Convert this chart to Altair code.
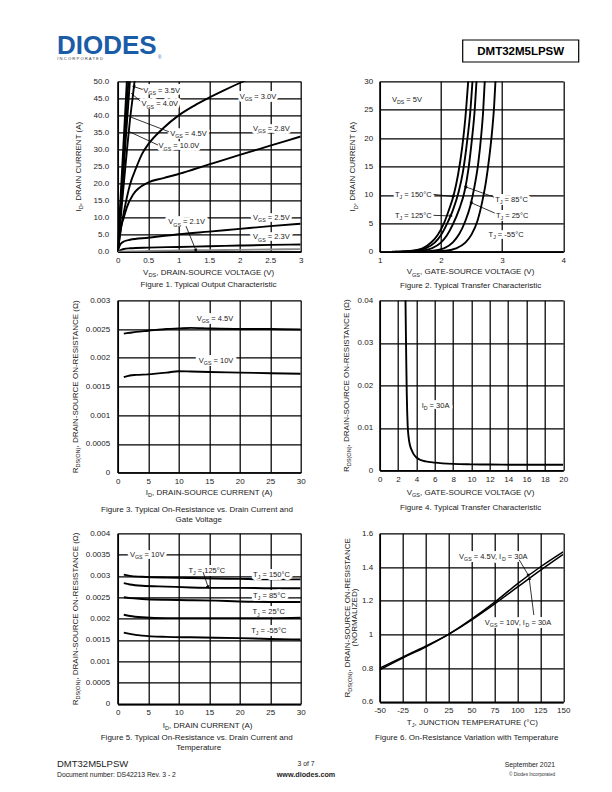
import math
import altair as alt
import pandas as pd

FONT = "Liberation Sans"
INK = "#000000"
LAB = "#1a1a1a"

# ====================== DATA ======================
# Figure 1: Typical Output Characteristic  (VDS [V] -> ID [A]) per VGS
f1_vds = {
    "10.0V": [0, 0.15, 0.156],
    "4.5V": [0, 0.175, 0.182],
    "4.0V": [0, 0.2, 0.208],
    "3.5V": [0, 0.05, 0.1, 0.15, 0.2, 0.24, 0.27, 0.28],
    "3.0V": [0, 0.05, 0.1, 0.2, 0.3, 0.4, 0.5, 0.75, 1.0, 1.25, 1.5, 1.75, 2.0, 2.1],
    "2.8V": [0, 0.03, 0.06, 0.1, 0.15, 0.25, 0.5, 0.75, 1.0, 1.25, 1.5, 2.0, 2.5, 3.0],
    "2.5V": [0, 0.02, 0.05, 0.1, 0.2, 0.5, 1.0, 1.5, 2.0, 2.5, 3.0],
    "2.3V": [0, 0.05, 0.1, 0.2, 0.5, 1.0, 1.5, 2.0, 2.5, 3.0],
    "2.1V": [0, 0.5, 1.0, 1.5, 2.0, 2.5, 3.0],
}
f1_id = {
    "10.0V": [0, 50, 52],
    "4.5V": [0, 50, 52],
    "4.0V": [0, 50, 52],
    "3.5V": [0, 10, 20, 29.5, 38.5, 44.5, 49, 50.5],
    "3.0V": [0, 6.5, 11.5, 19.6, 24.5, 28.7, 31.5, 36.3, 40, 42.8, 45.2, 47.4, 49.5, 50.3],
    "2.8V": [0, 4, 7.5, 10, 13, 16.7, 20.3, 21.6, 22.8, 24.2, 25.6, 28.4, 31.1, 33.8],
    "2.5V": [0, 1.2, 2.3, 3.0, 3.5, 4.1, 5.1, 5.9, 6.7, 7.5, 8.2],
    "2.3V": [0, 0.5, 0.8, 1.0, 1.2, 1.4, 1.6, 1.8, 2.0, 2.1],
    "2.1V": [0, 0.2, 0.35, 0.45, 0.55, 0.65, 0.75],
}
f1_colors = {"2.1V": "#8a8a8a"}
f1_xticks = [0, 0.5, 1, 1.5, 2, 2.5, 3]
f1_yticks = [0, 5, 10, 15, 20, 25, 30, 35, 40, 45, 50]
f1_labels = [
    ("3.5V", 0.42, 47.5), ("4.0V", 0.39, 43.4), ("4.5V", 0.86, 34.8), ("10.0V", 0.67, 31.1),
    ("3.0V", 2.0, 45.6), ("2.8V", 2.22, 36.1), ("2.1V", 0.83, 8.8), ("2.5V", 2.22, 10.1),
    ("2.3V", 2.22, 4.4),
]
f1_leaders = [
    (0.41, 47.6, 0.27, 48.4, True), (0.37, 44.2, 0.22, 46.5, False),
    (0.84, 35.2, 0.2, 39.6, False), (0.66, 31.3, 0.18, 35.3, False),
    (1.12, 7.5, 1.28, 0.5, True),
]

# Figure 2: Typical Transfer Characteristic (VGS [V] -> ID [A]) per TJ
f2_vgs = {
    "150": [1.2, 1.5, 1.7, 1.85, 1.95, 2.05, 2.13, 2.21, 2.28, 2.35, 2.40, 2.45],
    "125": [1.25, 1.55, 1.75, 1.9, 2.0, 2.1, 2.2, 2.29, 2.36, 2.43, 2.48, 2.52],
    "85": [1.35, 1.65, 1.85, 2.0, 2.1, 2.2, 2.3, 2.385, 2.45, 2.51, 2.55, 2.585],
    "25": [1.5, 1.85, 2.05, 2.2, 2.3, 2.4, 2.48, 2.55, 2.61, 2.66, 2.69, 2.72],
    "-55": [1.7, 2.05, 2.25, 2.4, 2.5, 2.6, 2.68, 2.74, 2.79, 2.84, 2.87, 2.895],
}
f2_id = {
    "150": [0, 0.15, 0.6, 1.7, 3.0, 5.0, 7.3, 10, 13.5, 18.5, 23.5, 30.5],
    "125": [0, 0.15, 0.6, 1.6, 2.9, 4.9, 7.4, 10.5, 14, 19.5, 24.5, 30.5],
    "85": [0, 0.15, 0.6, 1.6, 2.9, 4.9, 7.5, 10.5, 14.5, 20, 24.5, 30.5],
    "25": [0, 0.15, 0.6, 1.7, 3.1, 5.4, 8.0, 11.5, 15.5, 20.5, 24.5, 30.5],
    "-55": [0, 0.15, 0.6, 1.6, 3.0, 5.5, 9.0, 12.5, 16.5, 21.5, 25.5, 30.5],
}
f2_xticks = [1, 2, 3, 4]
f2_yticks = [0, 5, 10, 15, 20, 25, 30]
f2_labels = [
    ([("V", 0), ("DS", 1), (" = 5V", 0)], 1.2, 26.9),
    ([("T", 0), ("J", 1), (" = 150°C", 0)], 1.25, 10.1),
    ([("T", 0), ("J", 1), (" = 125°C", 0)], 1.25, 6.4),
    ([("T", 0), ("J", 1), (" = 85°C", 0)], 2.89, 9.2),
    ([("T", 0), ("J", 1), (" = 25°C", 0)], 2.9, 6.4),
    ([("T", 0), ("J", 1), (" = -55°C", 0)], 2.78, 3.0),
]
f2_leaders = [
    (1.88, 10.1, 2.2, 9.7, True), (1.88, 6.4, 2.16, 6.3, True),
    (2.87, 9.6, 2.41, 11.4, True), (2.88, 6.8, 2.5, 8.6, True),
]

# Figure 3: On-Resistance vs Drain Current and Gate Voltage
f3_id = [1, 2, 3, 5, 8, 10, 12, 15, 20, 25, 30]
f3_r_45 = [0.00242, 0.002435, 0.00245, 0.00247, 0.0025, 0.00251, 0.00252, 0.00251, 0.0025, 0.0025, 0.00249]
f3_r_10 = [0.00166, 0.00169, 0.0017, 0.00171, 0.00174, 0.001765, 0.00176, 0.00175, 0.00174, 0.00173, 0.00172]
f3_xticks = [0, 5, 10, 15, 20, 25, 30]
f3_yticks = [0, 0.0005, 0.001, 0.0015, 0.002, 0.0025, 0.003]
f3_labels = [
    ([("V", 0), ("GS", 1), (" = 4.5V", 0)], 12.95, 0.00268),
    ([("V", 0), ("GS", 1), (" = 10V", 0)], 13.3, 0.00195),
]

# Figure 4: On-Resistance vs Gate-Source Voltage (ID = 30A)
f4_vgs = [2.8, 2.85, 2.9, 2.95, 3.0, 3.05, 3.15, 3.3, 3.5, 3.7, 4.0, 4.5, 5, 6, 8, 10, 12, 16, 20]
f4_r = [0.042, 0.033, 0.025, 0.018, 0.0135, 0.0105, 0.0078, 0.0059, 0.0047, 0.0038, 0.003,
        0.0024, 0.0021, 0.0018, 0.0015, 0.0014, 0.00135, 0.0013, 0.0013]
f4_xticks = [0, 2, 4, 6, 8, 10, 12, 14, 16, 18, 20]
f4_yticks = [0, 0.01, 0.02, 0.03, 0.04]
f4_labels = [([("I", 0), ("D", 1), (" = 30A", 0)], 4.57, 0.0154)]

# Figure 5: On-Resistance vs Drain Current and Temperature (VGS = 10V)
f5_id = [1, 2, 4, 8, 12, 16, 20, 25, 30]
f5_r = {
    "150": [0.00303, 0.0030, 0.00298, 0.00296, 0.00295, 0.00294, 0.00293, 0.00292, 0.00292],
    "125": [0.00283, 0.0028, 0.00277, 0.00275, 0.00273, 0.00272, 0.00272, 0.00271, 0.00271],
    "85": [0.0025, 0.00248, 0.00246, 0.00244, 0.00243, 0.00242, 0.0024, 0.00239, 0.00239],
    "25": [0.00209, 0.00206, 0.00203, 0.00201, 0.00201, 0.00201, 0.00201, 0.00201, 0.00202],
    "-55": [0.00167, 0.00164, 0.0016, 0.00157, 0.00156, 0.00155, 0.00154, 0.00152, 0.00151],
}
f5_xticks = [0, 5, 10, 15, 20, 25, 30]
f5_yticks = [0, 0.0005, 0.001, 0.0015, 0.002, 0.0025, 0.003, 0.0035, 0.004]
f5_labels = [
    ([("V", 0), ("GS", 1), (" = 10V", 0)], 2.0, 0.00351),
    ([("T", 0), ("J", 1), (" = 125°C", 0)], 11.6, 0.00314),
    ([("T", 0), ("J", 1), (" = 150°C", 0)], 22.2, 0.00304),
    ([("T", 0), ("J", 1), (" = 85°C", 0)], 22.2, 0.00255),
    ([("T", 0), ("J", 1), (" = 25°C", 0)], 22.1, 0.00216),
    ([("T", 0), ("J", 1), (" = -55°C", 0)], 21.9, 0.00173),
]
f5_leaders = [(14.0, 0.00309, 14.8, 0.00275, True)]

# Figure 6: On-Resistance Variation with Temperature (normalized)
f6_tj = [-50, -25, 0, 25, 50, 75, 100, 125, 150]
f6_r_45 = [0.80, 0.865, 0.93, 1.0, 1.09, 1.19, 1.30, 1.40, 1.49]
f6_r_10 = [0.79, 0.86, 0.925, 1.0, 1.085, 1.18, 1.28, 1.38, 1.475]
f6_xticks = [-50, -25, 0, 25, 50, 75, 100, 125, 150]
f6_yticks = [0.6, 0.8, 1.0, 1.2, 1.4, 1.6]
f6_labels = [
    ([("V", 0), ("GS", 1), (" = 4.5V, I", 0), ("D", 1), (" = 30A", 0)], 36.5, 1.462),
    ([("V", 0), ("GS", 1), (" = 10V, I", 0), ("D", 1), (" = 30A", 0)], 64.6, 1.072),
]
f6_leaders = [(102, 1.443, 112, 1.352, True), (118, 1.115, 113, 1.33, True)]

# ====================== HELPERS ======================
DUMMY = pd.DataFrame({"z": [0]})
CW = {' ': .278, '(': .333, ')': .333, ',': .278, '-': .333, '.': .278, ':': .278, '=': .584,
      '°': .4, 'Ω': .768, '©': .737}
for ch in "0123456789":
    CW[ch] = .556
CW.update({'A': .667, 'B': .667, 'C': .722, 'D': .722, 'E': .667, 'F': .611, 'G': .778, 'H': .722,
           'I': .278, 'J': .5, 'K': .667, 'L': .556, 'M': .833, 'N': .722, 'O': .778, 'P': .667,
           'Q': .778, 'R': .722, 'S': .667, 'T': .611, 'U': .722, 'V': .667, 'W': .944, 'X': .667,
           'Y': .667, 'Z': .611})
CW.update({'a': .556, 'b': .556, 'c': .5, 'd': .556, 'e': .556, 'f': .278, 'g': .556, 'h': .556,
           'i': .222, 'j': .222, 'k': .5, 'l': .222, 'm': .833, 'n': .556, 'o': .556, 'p': .556,
           'q': .556, 'r': .333, 's': .5, 't': .278, 'u': .556, 'v': .5, 'w': .722, 'x': .5,
           'y': .5, 'z': .5})
SUB = 0.7
SUBDY = 0.28


def tw(s, fs):
    return fs * sum(CW.get(c, 0.6) for c in s)


def rich(parts, fs):
    out, cur = [], 0.0
    for t, sub in parts:
        f = fs * SUB if sub else fs
        lead = len(t) - len(t.lstrip(' '))
        cur += lead * CW[' '] * f
        body = t.lstrip(' ')
        out.append((body.rstrip(' '), f, cur, SUBDY * fs if sub else 0.0))
        cur += tw(body, f)
    return out, cur


def px_text(parts, x, y, fs=8, align="center", angle=0, color=LAB, weight="normal"):
    """Text placed in pixel units relative to its panel (titles, captions, header, footer)."""
    if isinstance(parts, str):
        parts = [(parts, 0)]
    xx, yy = (x + 0.36 * fs, y) if angle else (x, y + 0.36 * fs)
    layers = []
    if len(parts) == 1:
        kw = dict(text=parts[0][0], align=align, baseline="alphabetic", fontSize=fs, font=FONT,
                  color=color, fontWeight=weight)
        if angle:
            kw["angle"] = angle
        return [alt.Chart(DUMMY).mark_text(**kw).encode(x=alt.value(xx), y=alt.value(yy))]
    pieces, total = rich(parts, fs)
    start = {"left": 0, "center": -total / 2, "right": -total}[align]
    for t, f, off, d in pieces:
        kw = dict(text=t, align="left", baseline="alphabetic", dx=start + off, dy=d, fontSize=f,
                  font=FONT, color=color, fontWeight=weight)
        if angle:
            kw["angle"] = angle
        layers.append(alt.Chart(DUMMY).mark_text(**kw).encode(x=alt.value(xx), y=alt.value(yy)))
    return layers


def data_label(parts, x, y, fs=7.5):
    """Annotation anchored in data coordinates (left edge, vertical centre) with a white halo."""
    pieces, total = rich(parts, fs)
    full = "".join(p[0] for p in parts)
    fsh = total / tw(full, 1.0)
    layers = [alt.Chart(DUMMY).mark_text(
        text=full, align="left", baseline="alphabetic", dy=0.36 * fsh, fontSize=fsh, font=FONT,
        fill="white", stroke="white", strokeWidth=6, strokeJoin="round"
    ).encode(x=alt.XDatum(x), y=alt.YDatum(y))]
    for t, f, off, d in pieces:
        layers.append(alt.Chart(DUMMY).mark_text(
            text=t, align="left", baseline="alphabetic", dx=off, dy=0.36 * fs + d, fontSize=f,
            font=FONT, color=LAB
        ).encode(x=alt.XDatum(x), y=alt.YDatum(y)))
    return layers


def axis(values, fmt, pad):
    return alt.Axis(values=values, tickCount=100, format=fmt, title=None, grid=True, gridColor=INK,
                    gridWidth=1.25, domainColor=INK, domainWidth=1.7, ticks=False, tickSize=0,
                    labelFont=FONT, labelFontSize=8, labelColor=LAB, labelPadding=pad,
                    labelFlush=False, labelOverlap=False, labelBound=False,
                    labelExpr="replace(datum.label, '\u2212', '-')")


def panel(series, xdom, ydom, xt, yt, xfmt, yfmt, w, h, labels=(), leaders=(), extras=(),
          ypad=8, width=1.9):
    sx = alt.Scale(domain=xdom, nice=False, zero=False)
    sy = alt.Scale(domain=ydom, nice=False, zero=False)
    ax, ay = axis(xt, xfmt, 5), axis(yt, yfmt, ypad)
    rows = []
    for name, (xs, ys, col) in series.items():
        for i, (a, b) in enumerate(zip(xs, ys)):
            rows.append(dict(s=name, x=a, y=b, o=i, c=col))
    df = pd.DataFrame(rows)
    layers = [alt.Chart(df).mark_line(clip=True, strokeWidth=width, interpolate="monotone").encode(
        x=alt.X("x:Q", scale=sx, axis=ax), y=alt.Y("y:Q", scale=sy, axis=ay),
        detail="s:N", order="o:Q", color=alt.Color("c:N", scale=None))]
    for parts, x, y in labels:
        layers += data_label(parts, x, y)
    if leaders:
        kx = w / (xdom[1] - xdom[0])
        ky = h / (ydom[1] - ydom[0])
        ldf = pd.DataFrame([dict(x=a, y=b, x2=c, y2=d) for a, b, c, d, _ in leaders])
        layers.append(alt.Chart(ldf).mark_rule(color=INK, strokeWidth=0.8).encode(
            x=alt.X("x:Q", scale=sx, axis=ax), y=alt.Y("y:Q", scale=sy, axis=ay),
            x2="x2:Q", y2="y2:Q"))
        heads = []
        for a, b, c, d, arrow in leaders:
            if arrow:
                dxp, dyp = (c - a) * kx, -(d - b) * ky
                heads.append(dict(x=c, y=d, ang=math.degrees(math.atan2(dxp, -dyp)) % 360))
        if heads:
            layers.append(alt.Chart(pd.DataFrame(heads)).mark_point(
                shape="triangle", filled=True, size=14, color=INK, opacity=1).encode(
                x=alt.X("x:Q", scale=sx, axis=ax), y=alt.Y("y:Q", scale=sy, axis=ay),
                angle=alt.Angle("ang:Q", scale=None)))
    layers += list(extras)
    return alt.layer(*layers).properties(width=w, height=h)


def spacer(w, h):
    return alt.Chart(DUMMY).mark_text(text="").encode(
        x=alt.value(0), y=alt.value(0)).properties(width=w, height=h)


# ====================== LAYOUT ======================
LW, RW = 183, 183.5
H1L, H1R = 170.4, 170.4
H2L, H2R = 172.2, 170.0
H3L, H3R = 170.5, 168.5
GAPX, GAPY1, GAPY2 = 78.3, 48.0, 59.4
G = ".6~g"

VGS = lambda rest: [("V", 0), ("GS", 1), (rest, 0)]
RDS_TITLE = [("R", 0), ("DS(ON)", 1), (", DRAIN-SOURCE ON-RESISTANCE (Ω)", 0)]

# ---- Panel 1 ----
s1 = {k: (f1_vds[k], f1_id[k], f1_colors.get(k, INK)) for k in f1_vds}
e1 = []
e1 += px_text([("I", 0), ("D", 1), (", DRAIN CURRENT (A)", 0)], -39.4, H1L / 2, angle=270)
e1 += px_text([("V", 0), ("DS", 1), (", DRAIN-SOURCE VOLTAGE (V)", 0)], 91.5, H1L + 20.5)
e1 += px_text("Figure 1. Typical Output Characteristic", 90.8, H1L + 32.8)
e1 += px_text("DIODES", -60.7, -37.0, fs=26, align="left", color="#1b5ca8", weight="bold")
e1 += px_text("I  N  C  O  R  P  O  R  A  T  E  D", -60.5, -22.6, fs=4.2, align="left", color="#444444")
e1 += px_text("®", 40.2, -23.5, fs=4.5, align="left", color="#1b5ca8")
p1 = panel(s1, [0, 3], [0, 50], f1_xticks, f1_yticks, G, ".1f", LW, H1L,
           labels=[(VGS(" = " + v), x, y) for v, x, y in f1_labels], leaders=f1_leaders,
           extras=e1, ypad=9)

# ---- Panel 2 ----
s2 = {k: (f2_vgs[k], f2_id[k], INK) for k in f2_vgs}
e2 = []
e2 += px_text([("I", 0), ("D", 1), (", DRAIN CURRENT (A)", 0)], -27.3, H1R / 2, angle=270)
e2 += px_text([("V", 0), ("GS", 1), (", GATE-SOURCE VOLTAGE (V)", 0)], 91.7, H1R + 19.7)
e2 += px_text("Figure 2. Typical Transfer Characteristic", 91.0, H1R + 33.0)
e2.append(alt.Chart(DUMMY).mark_rect(fill="white", fillOpacity=0, stroke=INK, strokeWidth=1.2).encode(
    x=alt.value(83), x2=alt.value(199), y=alt.value(-41.3), y2=alt.value(-19.3)))
e2 += px_text("DMT32M5LPSW", 141, -30.3, fs=11.5, color=INK, weight="bold")
p2 = panel(s2, [1, 4], [0, 30], f2_xticks, f2_yticks, "d", "d", RW, H1R,
           labels=f2_labels, leaders=f2_leaders, extras=e2, ypad=7)

# ---- Panel 3 ----
s3 = {"4.5V": (f3_id, f3_r_45, INK), "10V": (f3_id, f3_r_10, INK)}
e3 = []
e3 += px_text(RDS_TITLE, -42.7, H2L / 2, angle=270)
e3 += px_text([("I", 0), ("D", 1), (", DRAIN-SOURCE CURRENT (A)", 0)], 91.5, H2L + 19.8)
e3 += px_text("Figure 3. Typical On-Resistance vs. Drain Current and", 79.3, H2L + 36.4)
e3 += px_text("Gate Voltage", 81.0, H2L + 46.4)
p3 = panel(s3, [0, 30], [0, 0.003], f3_xticks, f3_yticks, G, G, LW, H2L,
           labels=f3_labels, extras=e3)

# ---- Panel 4 ----
s4 = {"30A": (f4_vgs, f4_r, INK)}
e4 = []
e4 += px_text(RDS_TITLE, -34.0, H2R / 2, angle=270)
e4 += px_text([("V", 0), ("GS", 1), (", GATE-SOURCE VOLTAGE (V)", 0)], 91.7, H2R + 22.0)
e4 += px_text("Figure 4. Typical Transfer Characteristic", 91.0, H2R + 37.0)
p4 = panel(s4, [0, 20], [0, 0.04], f4_xticks, f4_yticks, G, G, RW, H2R,
           labels=f4_labels, extras=e4, ypad=7)

# ---- Panel 5 ----
s5 = {k: (f5_id, f5_r[k], INK) for k in f5_r}
e5 = []
e5 += px_text(RDS_TITLE, -42.7, H3L / 2, angle=270)
e5 += px_text([("I", 0), ("D", 1), (", DRAIN CURRENT (A)", 0)], 90.0, H3L + 21.2)
e5 += px_text("Figure 5. Typical On-Resistance vs. Drain Current and", 79.0, H3L + 33.2)
e5 += px_text("Temperature", 81.0, H3L + 43.2)
# footer
e5 += px_text("DMT32M5LPSW", -60.7, 230.7, fs=9.5, align="left", color="#222222")
e5 += px_text("Document number: DS42213  Rev. 3 - 2", -60.7, 241.2, fs=6.8, align="left", color="#222222")
e5 += px_text("3 of 7", 188.3, 230.7, fs=6.8, color="#222222")
e5 += px_text("www.diodes.com", 188.3, 240.9, fs=7.2, color="#222222", weight="bold")
e5 += px_text("September 2021", 437.3, 231.2, fs=6.8, align="right", color="#222222")
e5 += px_text("© Diodes Incorporated", 437.3, 240.7, fs=4.6, align="right", color="#333333")
p5 = panel(s5, [0, 30], [0, 0.004], f5_xticks, f5_yticks, G, G, LW, H3L,
           labels=f5_labels, leaders=f5_leaders, extras=e5)

# ---- Panel 6 ----
s6 = {"4.5V": (f6_tj, f6_r_45, INK), "10V": (f6_tj, f6_r_10, INK)}
e6 = []
e6 += px_text([("R", 0), ("DS(ON)", 1), (", DRAIN-SOURCE ON-RESISTANCE", 0)], -33.0, H3R / 2, angle=270)
e6 += px_text("(NORMALIZED)", -25.2, H3R / 2, angle=270)
e6 += px_text([("T", 0), ("J", 1), (", JUNCTION TEMPERATURE (°C)", 0)], 93.0, H3R + 20.2)
e6 += px_text("Figure 6. On-Resistance Variation with Temperature", 87.0, H3R + 35.2)
p6 = panel(s6, [-50, 150], [0.6, 1.6], f6_xticks, f6_yticks, G, G, RW, H3R,
           labels=f6_labels, leaders=f6_leaders, extras=e6, ypad=7, width=1.5)

cells = [
    p1, spacer(GAPX, 1), p2,
    spacer(1, GAPY1), spacer(1, 1), spacer(1, 1),
    p3, spacer(1, 1), p4,
    spacer(1, GAPY2), spacer(1, 1), spacer(1, 1),
    p5, spacer(1, 1), p6,
]

chart = alt.ConcatChart(concat=cells, columns=3, spacing=0, bounds="flush").properties(
    autosize=alt.AutoSizeParams(type="none"),
    padding={"left": 117.7, "top": 81.3, "right": 612 - 117.7, "bottom": 792 - 81.3},
    background="white",
).configure_view(stroke=None)

chart.save("out.html", embed_options={"renderer": "svg", "actions": False})
